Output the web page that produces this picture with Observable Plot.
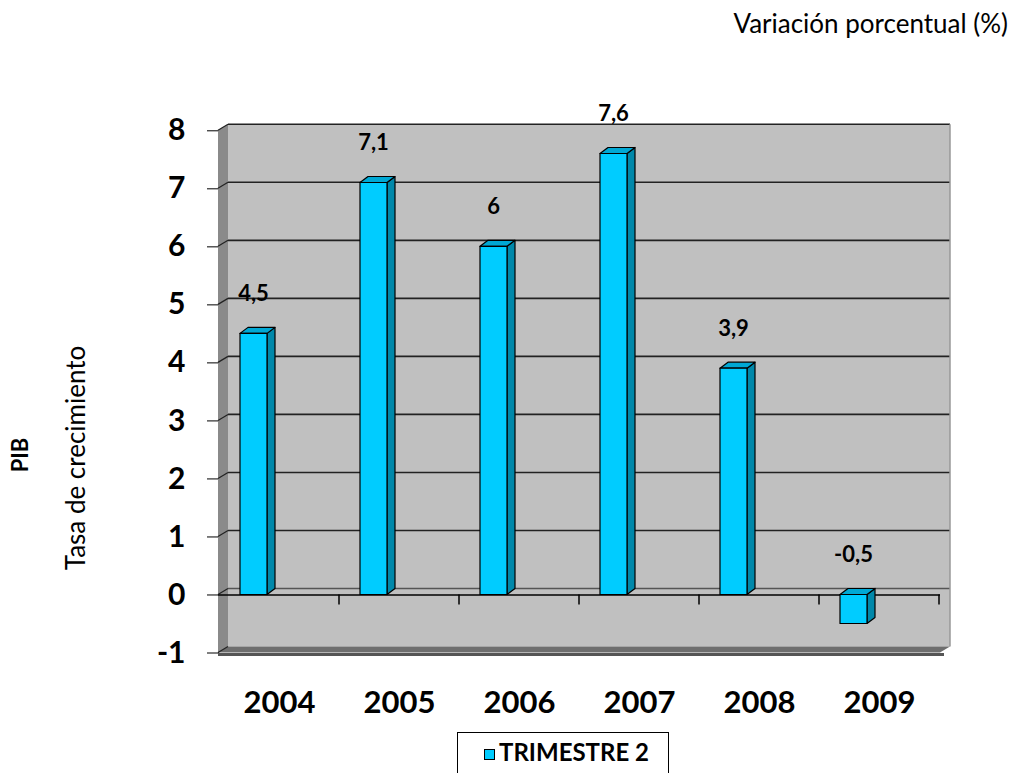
<!DOCTYPE html>
<html>
<head>
<meta charset="utf-8">
<script src="https://cdn.jsdelivr.net/npm/d3@7"></script>
<script src="https://cdn.jsdelivr.net/npm/@observablehq/plot@0.6"></script>
<style>
  body { margin: 0; background: #fff; }
  #wrap { position: relative; width: 1015px; height: 773px; overflow: hidden; font-family: Lato, "Open Sans", sans-serif; }
  #title { position: absolute; right: 7px; top: 7px; font-size: 26px; color: #000; white-space: nowrap; }
  .ylab { position: absolute; color: #000; transform: translate(-50%, -50%) rotate(-90deg); white-space: nowrap; line-height: 1; }
  #legend { position: absolute; left: 457px; top: 732px; width: 212px; height: 60px; border: 1.5px solid #000; box-sizing: border-box; background: #fff; }
  #legend .sw { position: absolute; left: 26px; top: 16px; width: 9px; height: 9px; background: #00CCFF; border: 1px solid #000; }
  #legend .lt { position: absolute; left: 41px; top: 7px; font-size: 24px; font-weight: bold; line-height: 1; }
</style>
</head>
<body>
<div id="wrap">
  <div id="title"></div>
  <div class="ylab" id="ylab1" style="left:20px; top:455px; font-size:22px; font-weight:bold;"></div>
  <div class="ylab" id="ylab2" style="left:75px; top:458px; font-size:26px;"></div>
  <div id="legend"><div class="sw"></div><div class="lt"></div></div>
</div>
<script>
const years = [2004, 2005, 2006, 2007, 2008, 2009];
const values = [4.5, 7.1, 6, 7.6, 3.9, -0.5];
const valueLabels = ["4,5", "7,1", "6", "7,6", "3,9", "-0,5"];
const yTicks = [-1, 0, 1, 2, 3, 4, 5, 6, 7, 8];
const titleText = "Variación porcentual (%)";
const yTitle1 = "PIB";
const yTitle2 = "Tasa de crecimiento";
const seriesName = "TRIMESTRE 2";

document.getElementById("title").textContent = titleText;
document.getElementById("ylab1").textContent = yTitle1;
document.getElementById("ylab2").textContent = yTitle2;
document.querySelector("#legend .lt").textContent = seriesName;

const data = years.map((year, i) => ({year, value: values[i], label: valueLabels[i]}));

const depthX = 10, depthY = 6;       // back wall depth
const bDX = 8, bDY = 6;               // bar depth
const barInset = 21, barWidth = 27;

function bandStep(x) {
  return x.step ? x.step() : (x(years[1]) - x(years[0]));
}

function walls(index, scales) {
  const {x, y} = scales;
  const g = d3.create("svg:g");
  const [x0, x1] = x.range();
  const yt = y(d3.max(yTicks)), yb = y(d3.min(yTicks));
  g.append("path")
    .attr("d", `M${x0},${yt}L${x0 + depthX},${yt - depthY}L${x0 + depthX},${yb - depthY}L${x0},${yb}Z`)
    .attr("fill", "#8a8a8a");
  g.append("rect")
    .attr("x", x0 + depthX).attr("y", yt - depthY)
    .attr("width", x1 - x0).attr("height", yb - yt)
    .attr("fill", "#c0c0c0");
  g.append("path")
    .attr("d", `M${x0},${yb}L${x0 + depthX},${yb - depthY}L${x1 + depthX},${yb - depthY}L${x1},${yb}Z`)
    .attr("fill", "#6e6e6e");
  g.append("line")
    .attr("x1", x0).attr("x2", x1 + 4).attr("y1", yb + 2).attr("y2", yb + 2)
    .attr("stroke", "#555").attr("stroke-width", 3);
  for (const t of yTicks) {
    const yy = y(t);
    if (t !== d3.min(yTicks)) {
      g.append("line")
        .attr("x1", x0 + depthX).attr("x2", x1 + depthX)
        .attr("y1", yy - depthY).attr("y2", yy - depthY)
        .attr("stroke", t === 0 ? "#555" : "#222").attr("stroke-width", 1.6);
    }
    g.append("line")
      .attr("x1", x0).attr("x2", x0 + depthX)
      .attr("y1", yy).attr("y2", yy - depthY)
      .attr("stroke", "#222").attr("stroke-width", 1.2);
  }
  g.append("line")
    .attr("x1", x1 + depthX).attr("x2", x1 + depthX)
    .attr("y1", yt - depthY).attr("y2", yb - depthY)
    .attr("stroke", "#999").attr("stroke-width", 1.5);
  return g.node();
}

function xTicks(index, scales) {
  const {x, y} = scales;
  const g = d3.create("svg:g");
  const step = bandStep(x);
  const y0 = y(0);
  for (const yr of years) {
    const xx = x(yr) + step;
    g.append("line").attr("x1", xx).attr("x2", xx).attr("y1", y0).attr("y2", y0 + 10)
      .attr("stroke", "#000").attr("stroke-width", 1.5);
  }
  return g.node();
}

function bars3d(index, scales) {
  const {x, y} = scales;
  const g = d3.create("svg:g").attr("stroke", "#000").attr("stroke-width", 1.2).attr("stroke-linejoin", "round");
  for (const d of data) {
    const left = x(d.year) + barInset, right = left + barWidth;
    const y0 = y(0), y1 = y(d.value);
    const top = Math.min(y0, y1), bot = Math.max(y0, y1);
    g.append("path")
      .attr("d", `M${right},${top}L${right + bDX},${top - bDY}L${right + bDX},${bot - bDY}L${right},${bot}Z`)
      .attr("fill", "#0088AA");
    g.append("path")
      .attr("d", `M${left},${top}L${left + bDX},${top - bDY}L${right + bDX},${top - bDY}L${right},${top}Z`)
      .attr("fill", "#00A8D4");
    g.append("rect")
      .attr("x", left).attr("y", top).attr("width", barWidth).attr("height", bot - top)
      .attr("fill", "#00CCFF");
  }
  return g.node();
}

const chart = Plot.plot({
  width: 1015,
  height: 773,
  marginLeft: 218,
  marginRight: 75,
  marginTop: 130.3,
  marginBottom: 120.5,
  x: {type: "band", domain: years, padding: 0, axis: null},
  y: {domain: [-1, 8], ticks: yTicks, axis: "left", tickSize: 11, tickPadding: 22, line: true, label: null, tickFormat: d => String(d)},
  style: {fontFamily: "Lato, 'Open Sans', sans-serif", fontSize: "30px", fontWeight: "bold", color: "#000", background: "transparent", overflow: "visible"},
  marks: [
    walls,
    Plot.ruleY([0], {stroke: "#000", strokeWidth: 1.5}),
    xTicks,
    bars3d,
    Plot.text(data, {x: "year", y: d => Math.max(d.value, 0), text: "label", dx: -26, dy: -40, fontSize: 22, fontWeight: "bold", fill: "#000"}),
    Plot.text(years, {x: d => d, text: d => String(d), frameAnchor: "bottom", dy: 60, fontSize: 31, fontWeight: "bold", fill: "#000"})
  ]
});
chart.style.position = "absolute";
chart.style.left = "0px";
chart.style.top = "0px";
document.getElementById("wrap").prepend(chart);
</script>
</body>
</html>
